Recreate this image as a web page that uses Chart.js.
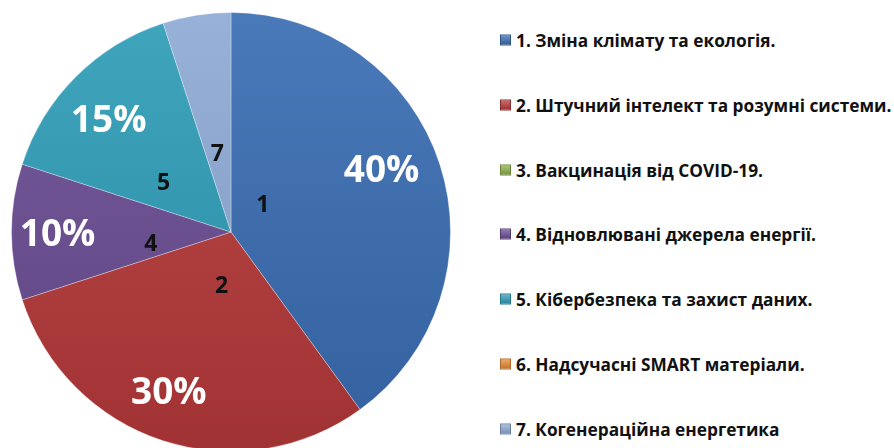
<!DOCTYPE html>
<html>
<head>
<meta charset="utf-8">
<script src="https://cdn.jsdelivr.net/npm/chart.js@4/dist/chart.umd.min.js"></script>
<style>
  html, body { margin: 0; padding: 0; background: #fff; overflow: hidden; }
  #wrap { position: relative; width: 894px; height: 448px; }
  #pieBox { position: absolute; left: 0; top: 0; width: 462px; height: 464px; }
  #legend { position: absolute; left: 500px; top: 0; }
  .item { position: absolute; left: 0; display: flex; align-items: center; white-space: nowrap;
          font: bold 17.3px "Open Sans", sans-serif; color: #111; transform: translateY(-50%); }
  .swatch { width: 11px; height: 11px; margin-right: 5px; box-sizing: border-box; }
</style>
</head>
<body>
<div id="wrap">
  <div id="pieBox"><canvas id="pie"></canvas></div>
  <div id="legend"></div>
</div>
<script>
// Topics and their share (%)
const categories = [
  "1. Зміна клімату та екологія.",
  "2. Штучний інтелект та розумні системи.",
  "3. Вакцинація від COVID-19.",
  "4. Відновлювані джерела енергії.",
  "5. Кібербезпека та захист даних.",
  "6. Надсучасні SMART матеріали.",
  "7. Когенераційна енергетика"
];
const shortLabels = ["1", "2", "3", "4", "5", "6", "7"];
const shares = [40, 30, 0, 10, 15, 0, 5];
const sliceColors = ["#3a6db3", "#b7393a", "#8cb04b", "#6b4d94", "#2e9db7", "#e68a35", "#8eaad6"];

// mix a hex colour with white (t>0) or black (t<0)
function shade(hex, t) {
  const n = parseInt(hex.slice(1), 16);
  let r = n >> 16, g = (n >> 8) & 255, b = n & 255;
  const target = t > 0 ? 255 : 0, k = Math.abs(t);
  r = Math.round(r + (target - r) * k);
  g = Math.round(g + (target - g) * k);
  b = Math.round(b + (target - b) * k);
  return `rgb(${r},${g},${b})`;
}

function sliceFill(context) {
  const chart = context.chart;
  const area = chart.chartArea;
  const base = sliceColors[context.dataIndex];
  if (!area) return base;
  const grad = chart.ctx.createLinearGradient(0, area.top, 0, area.bottom);
  grad.addColorStop(0, shade(base, 0.08));
  grad.addColorStop(1, shade(base, -0.12));
  return grad;
}

// label placement: [angle offset in degrees, radius fraction]
const pctPlacement = { 0: [-4, 0.74], 1: [3, 0.79], 3: [-1, 0.79], 4: [-3, 0.75] };
const numPlacement = { 0: [-22, 0.19], 1: [-8, 0.25], 3: [-9, 0.37], 4: [-9, 0.38], 6: [-1, 0.36] };

const sliceLabels = {
  id: "sliceLabels",
  afterDatasetsDraw(chart) {
    const ctx = chart.ctx;
    const meta = chart.getDatasetMeta(0);
    ctx.save();
    ctx.textAlign = "center";
    ctx.textBaseline = "middle";
    meta.data.forEach((arc, i) => {
      if (!shares[i]) return;
      const { x, y, startAngle, endAngle, outerRadius } = arc.getProps(["x", "y", "startAngle", "endAngle", "outerRadius"], true);
      const mid = (startAngle + endAngle) / 2;
      if (pctPlacement[i]) {
        const [da, f] = pctPlacement[i];
        const a = mid + da * Math.PI / 180;
        ctx.font = 'bold 37px "Open Sans", sans-serif';
        ctx.fillStyle = "#ffffff";
        ctx.fillText(shares[i] + "%", x + Math.cos(a) * outerRadius * f, y + Math.sin(a) * outerRadius * f);
      }
      if (numPlacement[i]) {
        const [da, f] = numPlacement[i];
        const a = mid + da * Math.PI / 180;
        ctx.font = 'bold 23px "Open Sans", sans-serif';
        ctx.fillStyle = "#111111";
        ctx.fillText(shortLabels[i], x + Math.cos(a) * outerRadius * f, y + Math.sin(a) * outerRadius * f);
      }
    });
    ctx.restore();
  }
};

new Chart(document.getElementById("pie").getContext("2d"), {
  type: "pie",
  data: {
    labels: categories,
    datasets: [{
      data: shares,
      backgroundColor: sliceFill,
      borderColor: "rgba(255,255,255,0.3)",
      borderWidth: 1
    }]
  },
  options: {
    responsive: true,
    maintainAspectRatio: false,
    animation: false,
    layout: { padding: { left: 11, right: 11, top: 12, bottom: 12 } },
    plugins: {
      legend: { display: false },
      tooltip: { enabled: false }
    }
  },
  plugins: [sliceLabels]
});

// legend on the right
const legendEl = document.getElementById("legend");
categories.forEach((name, i) => {
  const row = document.createElement("div");
  row.className = "item";
  row.style.top = (40 + i * 64.8) + "px";
  const sw = document.createElement("span");
  sw.className = "swatch";
  sw.style.background = `linear-gradient(${shade(sliceColors[i], 0.25)}, ${shade(sliceColors[i], -0.15)})`;
  sw.style.border = `1px solid ${shade(sliceColors[i], -0.25)}`;
  const txt = document.createElement("span");
  txt.textContent = name;
  row.appendChild(sw);
  row.appendChild(txt);
  legendEl.appendChild(row);
});
</script>
</body>
</html>
